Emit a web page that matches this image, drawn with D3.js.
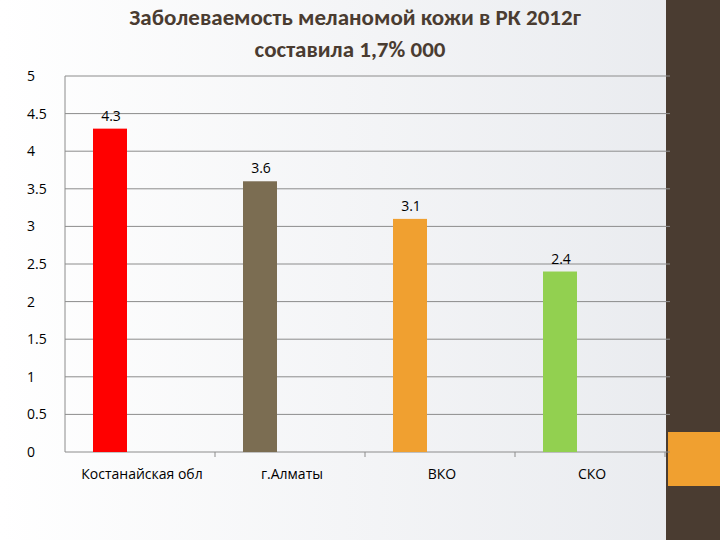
<!DOCTYPE html>
<meta charset="utf-8">
<style>
body { margin: 0; }
text { font-family: "Open Sans", "Liberation Sans", sans-serif; }
</style>
<body></body>
<script src="https://d3js.org/d3.v7.min.js"></script>
<script>
var categories = ["Костанайская обл", "г.Алматы", "ВКО", "СКО"];
var values = [4.3, 3.6, 3.1, 2.4];
var colors = ["#ff0000", "#7b6d52", "#f0a030", "#92d050"];
var yTicks = [0, 0.5, 1, 1.5, 2, 2.5, 3, 3.5, 4, 4.5, 5];

var svg = d3.select("body").append("svg").attr("width", 720).attr("height", 540);

var grad = svg.append("defs").append("linearGradient").attr("id", "bg");
grad.append("stop").attr("offset", "0").attr("stop-color", "#ffffff");
grad.append("stop").attr("offset", "1").attr("stop-color", "#e8eaee");
svg.append("rect").attr("width", 720).attr("height", 540).attr("fill", "url(#bg)");
svg.append("rect").attr("x", 666).attr("width", 54).attr("height", 540).attr("fill", "#4a3c31");
svg.append("rect").attr("x", 668).attr("y", 432).attr("width", 52).attr("height", 54).attr("fill", "#f0a030");

var x = d3.scaleBand().domain(categories).range([65, 665]);
var y = d3.scaleLinear().domain([0, 5]).range([452, 76]);

var g = svg.append("g");
g.selectAll(".grid").data(yTicks).enter().append("line")
  .attr("x1", 65).attr("x2", 670)
  .attr("y1", d => y(d)).attr("y2", d => y(d))
  .attr("stroke", "#8c8c8c").attr("stroke-width", 1);

g.append("line").attr("x1", 65).attr("x2", 65).attr("y1", y(5)).attr("y2", y(0)).attr("stroke", "#8c8c8c");
g.selectAll(".tk").data(categories).enter().append("line")
  .attr("x1", (d, i) => 65 + (i + 1) * x.bandwidth()).attr("x2", (d, i) => 65 + (i + 1) * x.bandwidth())
  .attr("y1", y(0)).attr("y2", y(0) + 5).attr("stroke", "#8c8c8c");

g.selectAll(".yl").data(yTicks).enter().append("text")
  .attr("x", 27).attr("y", d => y(d) + 5).attr("font-size", 14)
  .text(d => d);

g.selectAll(".bar").data(values).enter().append("rect")
  .attr("x", (d, i) => x(categories[i]) + 28).attr("width", 34)
  .attr("y", d => y(d)).attr("height", d => y(0) - y(d))
  .attr("fill", (d, i) => colors[i]);

g.selectAll(".vl").data(values).enter().append("text")
  .attr("x", (d, i) => x(categories[i]) + 46).attr("y", d => y(d) - 8)
  .attr("font-size", 14).attr("text-anchor", "middle")
  .text(d => d);

g.selectAll(".xl").data(categories).enter().append("text")
  .attr("x", d => x(d) + x.bandwidth() / 2 + 2).attr("y", 479)
  .attr("font-size", 14).attr("text-anchor", "middle").text(d => d);

var title = svg.append("text").attr("text-anchor", "middle").attr("font-size", 21)
  .attr("font-weight", "bold").attr("fill", "#4a3c31")
  .style("font-family", "Carlito, Calibri, 'Open Sans', sans-serif");
title.append("tspan").attr("x", 355).attr("y", 25).attr("font-size", 23).text("Заболеваемость меланомой кожи в  РК  2012г");
title.append("tspan").attr("x", 350).attr("y", 57).attr("font-size", 23).text("составила  1,7% 000");
</script>
